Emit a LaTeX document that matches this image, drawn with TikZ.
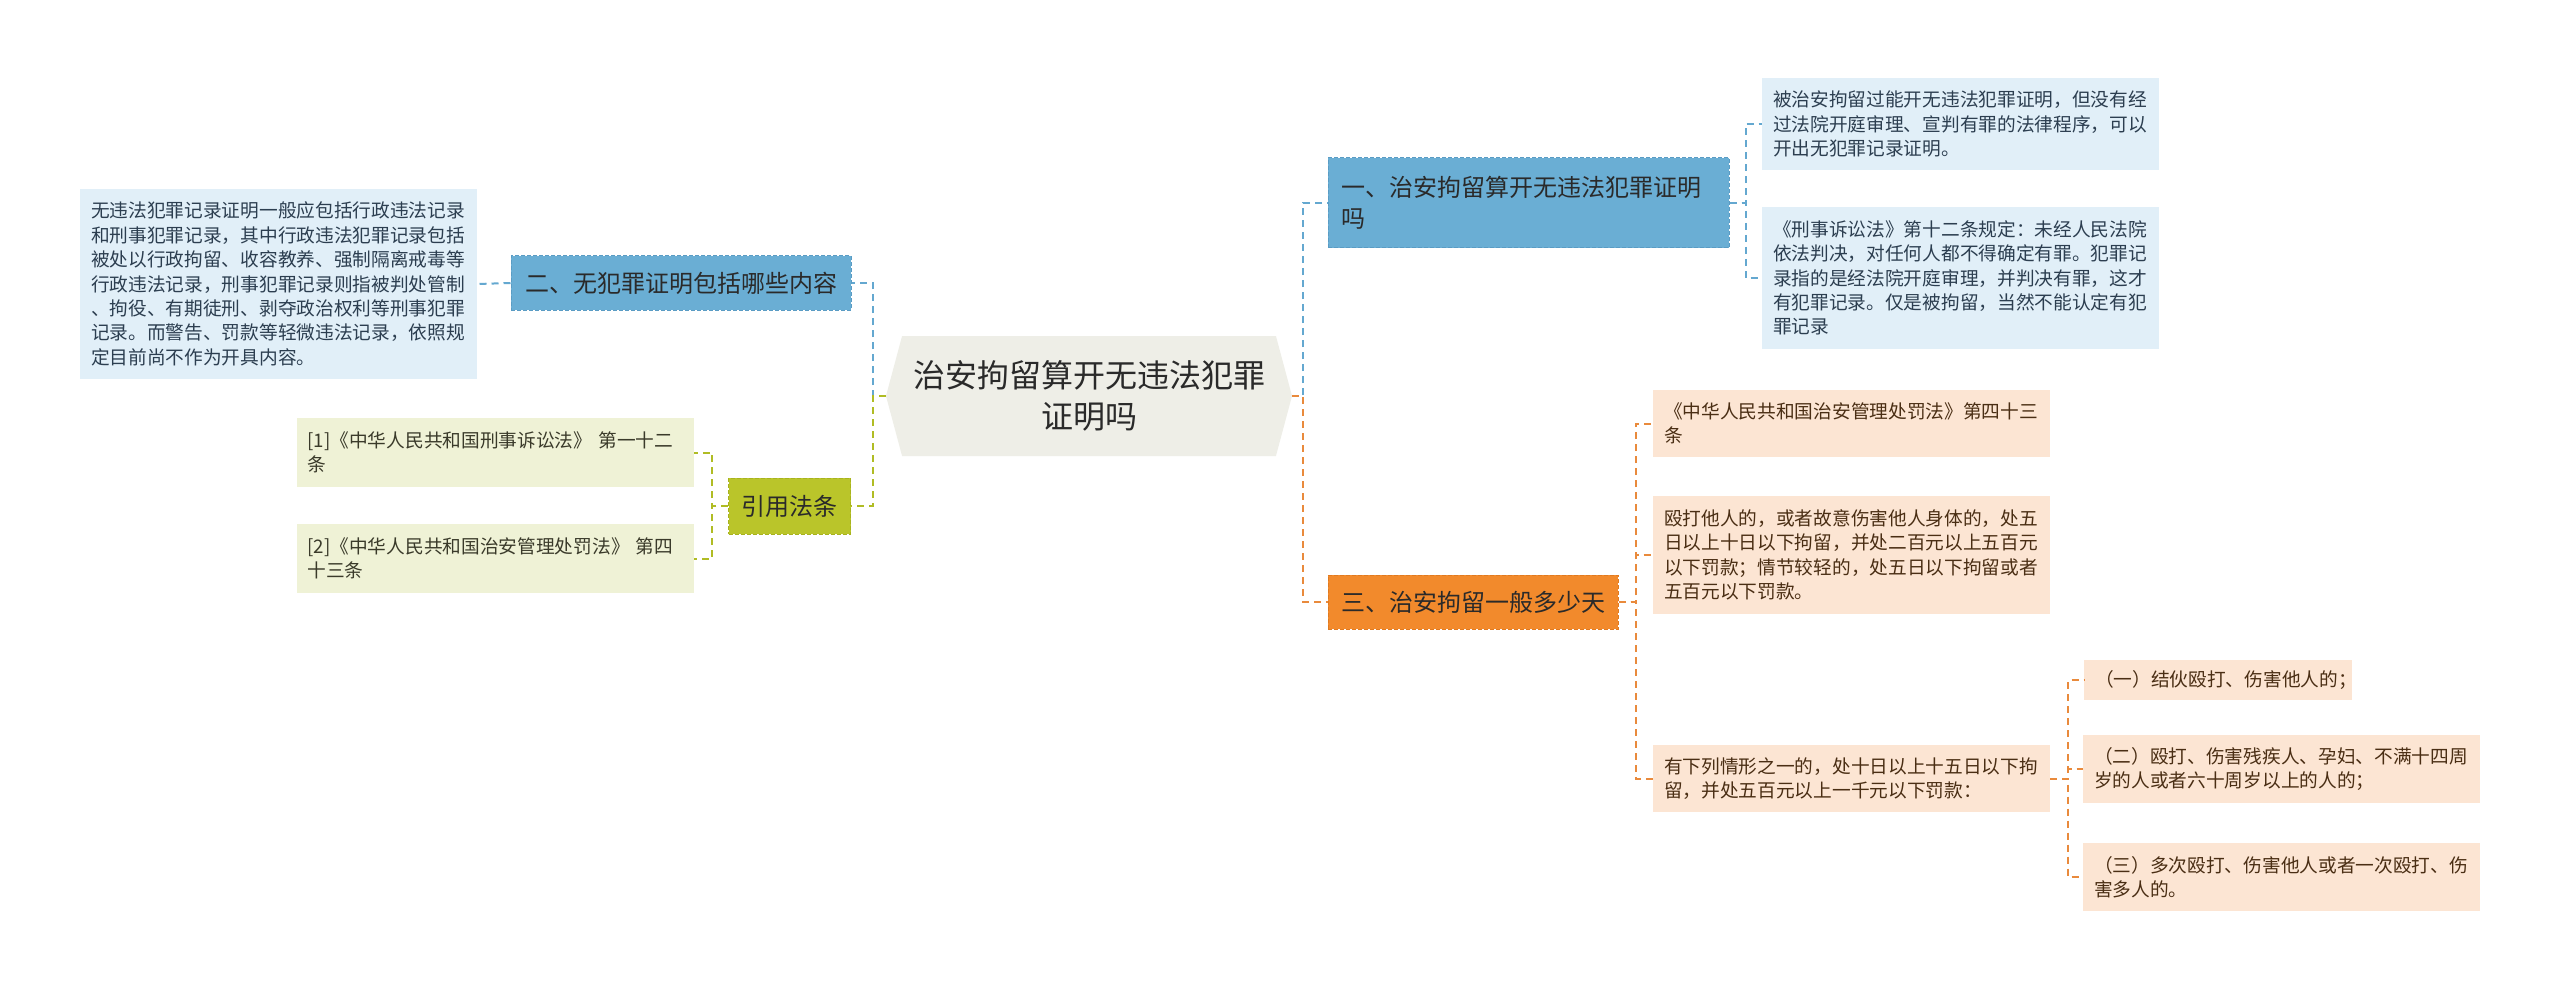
\documentclass[tikz,border=0pt]{standalone}
\usepackage{fontspec}
\setmainfont{Noto Sans CJK SC}
\usetikzlibrary{shapes.symbols}
\definecolor{rootbg}{HTML}{EEEEE7}
\definecolor{blueM}{HTML}{6AAED4}
\definecolor{blueB}{HTML}{5A9CC4}
\definecolor{blueL}{HTML}{E1EFF8}
\definecolor{blueLine}{HTML}{64A8D0}
\definecolor{oliveM}{HTML}{BAC52A}
\definecolor{oliveB}{HTML}{A8B31E}
\definecolor{oliveL}{HTML}{EFF2D6}
\definecolor{oliveLine}{HTML}{B0BC24}
\definecolor{orangeM}{HTML}{F28A2C}
\definecolor{orangeB}{HTML}{E07A20}
\definecolor{orangeL}{HTML}{FCE5D3}
\definecolor{orangeLine}{HTML}{E98A3C}
\definecolor{txtMain}{HTML}{2A2A2A}
\definecolor{txtBlue}{HTML}{2C3E50}
\definecolor{txtOlive}{HTML}{3A3A2A}
\definecolor{txtBrown}{HTML}{4A2E14}
\tikzset{
  mainnode/.style={rectangle, font=\fontsize{24}{31}\selectfont, text=txtMain,
    inner xsep=13pt, inner ysep=0pt, align=left, dash pattern=on 4pt off 2pt, line width=1pt},
  leafbox/.style={rectangle, font=\fontsize{18.7}{24.4}\selectfont, align=left,
    inner xsep=11pt, inner ysep=0pt, text width=375pt},
  blueleaf/.style={leafbox, fill=blueL, text=txtBlue},
  oliveleaf/.style={leafbox, fill=oliveL, text=txtOlive},
  orangeleaf/.style={leafbox, fill=orangeL, text=txtBrown},
  conn/.style={dash pattern=on 7pt off 5pt, line width=2pt},
}
\begin{document}
\begin{tikzpicture}[x=1pt,y=-1pt]
\useasboundingbox (0,0) rectangle (2560,995);
\fill[white] (0,0) rectangle (2560,995);

% root
\node[shape=signal, signal to=east and west, signal pointer angle=150, fill=rootbg,
  minimum width=406pt, minimum height=120pt, inner sep=0pt, align=center, text=txtMain,
  font=\fontsize{32}{41}\selectfont] (root) at (1089,396) {治安拘留算开无违法犯罪\\证明吗};

% right branch 1
\node[mainnode, fill=blueM, draw=blueB, text width=375pt, minimum height=90pt] (n1) at (1528.5,203)
  {一、治安拘留算开无违法犯罪证明\\吗};
\node[blueleaf, minimum height=92pt] (n1a) at (1960.5,124)
  {被治安拘留过能开无违法犯罪证明，但没有经\\过法院开庭审理、宣判有罪的法律程序，可以\\开出无犯罪记录证明。};
\node[blueleaf, minimum height=142pt] (n1b) at (1960.5,278)
  {《刑事诉讼法》第十二条规定：未经人民法院\\依法判决，对任何人都不得确定有罪。犯罪记\\录指的是经法院开庭审理，并判决有罪，这才\\有犯罪记录。仅是被拘留，当然不能认定有犯\\罪记录};

% right branch 3
\node[mainnode, fill=orangeM, draw=orangeB, minimum height=54pt] (n3) at (1473,602)
  {三、治安拘留一般多少天};
\node[orangeleaf, minimum height=67pt] (n3a) at (1851.5,423.5)
  {《中华人民共和国治安管理处罚法》第四十三\\条};
\node[orangeleaf, minimum height=118pt] (n3b) at (1851.5,555)
  {殴打他人的，或者故意伤害他人身体的，处五\\日以上十日以下拘留，并处二百元以上五百元\\以下罚款；情节较轻的，处五日以下拘留或者\\五百元以下罚款。};
\node[orangeleaf, minimum height=67pt] (n3c) at (1851.5,778.5)
  {有下列情形之一的，处十日以上十五日以下拘\\留，并处五百元以上一千元以下罚款：};
\node[leafbox, fill=orangeL, text=txtBrown, text width=246pt, minimum height=40pt] (n3c1) at (2218,680)
  {（一）结伙殴打、伤害他人的；};
\node[orangeleaf, minimum height=68pt] (n3c2) at (2281.5,769)
  {（二）殴打、伤害残疾人、孕妇、不满十四周\\岁的人或者六十周岁以上的人的；};
\node[orangeleaf, minimum height=68pt] (n3c3) at (2281.5,877)
  {（三）多次殴打、伤害他人或者一次殴打、伤\\害多人的。};

% left branch 2
\node[mainnode, fill=blueM, draw=blueB, inner xsep=14pt, minimum height=54pt] (n2) at (681,283)
  {二、无犯罪证明包括哪些内容};
\node[blueleaf, minimum height=190pt] (n2a) at (278.5,284)
  {无违法犯罪记录证明一般应包括行政违法记录\\和刑事犯罪记录，其中行政违法犯罪记录包括\\被处以行政拘留、收容教养、强制隔离戒毒等\\行政违法记录，刑事犯罪记录则指被判处管制\\、拘役、有期徒刑、剥夺政治权利等刑事犯罪\\记录。而警告、罚款等轻微违法记录，依照规\\定目前尚不作为开具内容。};

% left branch cite
\node[mainnode, fill=oliveM, draw=oliveB, minimum height=56pt] (nc) at (789.5,506)
  {引用法条};
\node[oliveleaf, minimum height=69pt] (nc1) at (495,452.5)
  {[1]《中华人民共和国刑事诉讼法》 第一十二\\条};
\node[oliveleaf, minimum height=69pt] (nc2) at (495,558.5)
  {[2]《中华人民共和国治安管理处罚法》 第四\\十三条};

% connectors
\draw[conn, blueLine] (root.east) -- ++(11,0) |- (n1.west);
\draw[conn, orangeLine] (root.east) -- ++(11,0) |- (n3.west);
\draw[conn, blueLine] (root.west) -- ++(-13,0) |- (n2.east);
\draw[conn, oliveLine] (root.west) -- ++(-13,0) |- (nc.east);

\draw[conn, blueLine] (n1.east) -- ++(16,0) |- (n1a.west);
\draw[conn, blueLine] (n1.east) -- ++(16,0) |- (n1b.west);

\draw[conn, orangeLine] (n3.east) -- ++(17,0) |- (n3a.west);
\draw[conn, orangeLine] (n3.east) -- ++(17,0) |- (n3b.west);
\draw[conn, orangeLine] (n3.east) -- ++(17,0) |- (n3c.west);

\draw[conn, orangeLine] (n3c.east) -- ++(18,0) |- (n3c1.west);
\draw[conn, orangeLine] (n3c.east) -- ++(18,0) |- (n3c2.west);
\draw[conn, orangeLine] (n3c.east) -- ++(18,0) |- (n3c3.west);

\draw[conn, blueLine] (n2.west) -- (n2a.east);
\draw[conn, oliveLine] (nc.west) -- ++(-16,0) |- (nc1.east);
\draw[conn, oliveLine] (nc.west) -- ++(-16,0) |- (nc2.east);
\end{tikzpicture}
\end{document}
